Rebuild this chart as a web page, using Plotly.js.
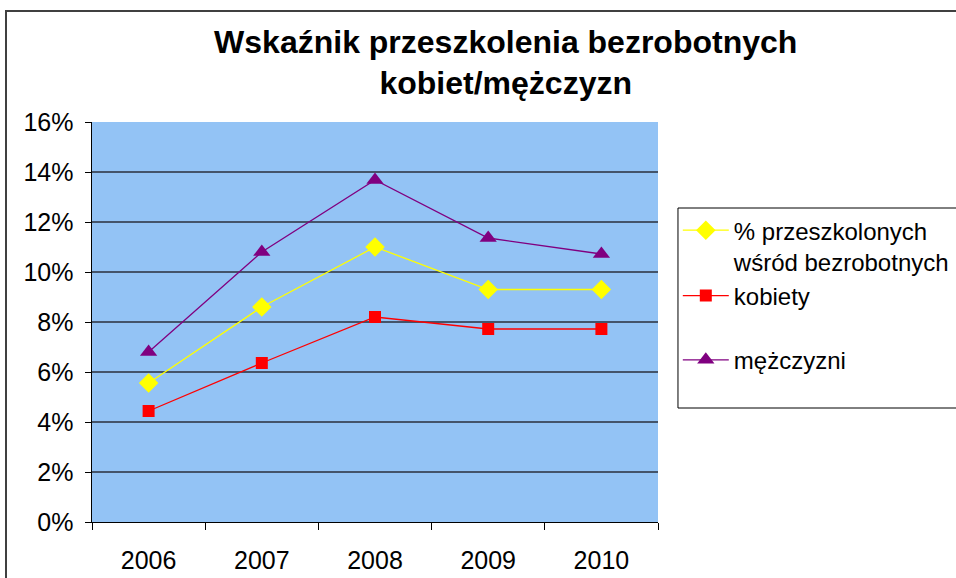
<!DOCTYPE html>
<html>
<head>
<meta charset="utf-8">
<script src="https://cdn.plot.ly/plotly-3.0.1.min.js"></script>
<style>
  html, body { margin: 0; padding: 0; background: #fff; overflow: hidden; }
  #wrap { position: relative; width: 956px; height: 578px; }
  #chart { width: 956px; height: 578px; }
  #frame { position: absolute; left: 5px; top: 10px; width: 1000px; height: 640px;
           border: 2px solid #404040; pointer-events: none; }
</style>
</head>
<body>
<div id="wrap">
  <div id="chart"></div>
  <div id="frame"></div>
</div>
<script>
const years = ['2006', '2007', '2008', '2009', '2010'];
const ogolem = [0.0556, 0.0860, 0.1100, 0.0930, 0.0930];
const kobiety = [0.0444, 0.0636, 0.0820, 0.0772, 0.0772];
const mezczyzni = [0.0680, 0.1080, 0.1368, 0.1136, 0.1072];
const seriesNames = ['% przeszkolonych<br>wśród bezrobotnych', 'kobiety', 'mężczyzni'];
const yTicks = [0, 0.02, 0.04, 0.06, 0.08, 0.10, 0.12, 0.14, 0.16];
const yTickText = ['0%', '2%', '4%', '6%', '8%', '10%', '12%', '14%', '16%'];

const font = 'Arial, "Liberation Sans", sans-serif';

const traces = [
  { x: years, y: ogolem, name: seriesNames[0], type: 'scatter', mode: 'lines+markers',
    legendgroup: 'a',
    line: { color: '#FFFF00', width: 1.3 },
    marker: { symbol: 'diamond', size: 15, color: '#FFFF00' } },
  { x: years, y: kobiety, name: seriesNames[1], type: 'scatter', mode: 'lines+markers',
    legendgroup: 'a',
    line: { color: '#FF0000', width: 1.3 },
    marker: { symbol: 'square', size: 12, color: '#FF0000' } },
  { x: years, y: mezczyzni, name: seriesNames[2], type: 'scatter', mode: 'lines+markers',
    legendgroup: 'b',
    line: { color: '#800080', width: 1.3 },
    marker: { symbol: 'triangle-up', size: 15, color: '#800080' } }
];

const layout = {
  width: 956, height: 578,
  margin: { l: 92, r: 298, t: 122, b: 56 },
  paper_bgcolor: '#ffffff',
  plot_bgcolor: '#93C3F5',
  font: { family: font, size: 24, color: '#000' },
  title: {
    text: '<b>Wskaźnik przeszkolenia bezrobotnych<br>kobiet/mężczyzn</b>',
    font: { family: font, size: 32, color: '#000' },
    x: 0.529, xanchor: 'center', xref: 'container',
    y: 0.909, yanchor: 'middle', yref: 'container'
  },
  xaxis: {
    type: 'category', range: [-0.5, 4.5],
    showline: true, linecolor: '#000', linewidth: 1.2,
    ticks: 'outside', tickson: 'boundaries', ticklen: 7, tickcolor: '#000', tickwidth: 1,
    showgrid: false, zeroline: false,
    ticklabelstandoff: 16,
    tickfont: { family: font, size: 25, color: '#000' },
    fixedrange: true
  },
  yaxis: {
    range: [0, 0.16], tickvals: yTicks, ticktext: yTickText,
    showline: true, linecolor: '#000', linewidth: 1.5,
    ticks: 'outside', ticklen: 6, tickcolor: '#000',
    showgrid: true, gridcolor: '#44546A', gridwidth: 2,
    zeroline: false,
    ticklabelstandoff: 6,
    tickfont: { family: font, size: 25, color: '#000' },
    fixedrange: true
  },
  legend: {
    xref: 'container', yref: 'container',
    x: 0.709, xanchor: 'left', y: 0.640, yanchor: 'top',
    borderwidth: 0, bgcolor: 'rgba(0,0,0,0)',
    font: { family: font, size: 24, color: '#000' },
    valign: 'top', tracegroupgap: 30,
    itemwidth: 46
  },
  shapes: [
    { type: 'rect', xref: 'paper', yref: 'paper',
      x0: 1.0353, x1: 1.70, y0: 0.285, y1: 0.785,
      line: { color: '#000', width: 1 }, fillcolor: '#ffffff', layer: 'below' }
  ],
  showlegend: true
};

Plotly.newPlot('chart', traces, layout, { displayModeBar: false, staticPlot: true });
</script>
</body>
</html>
